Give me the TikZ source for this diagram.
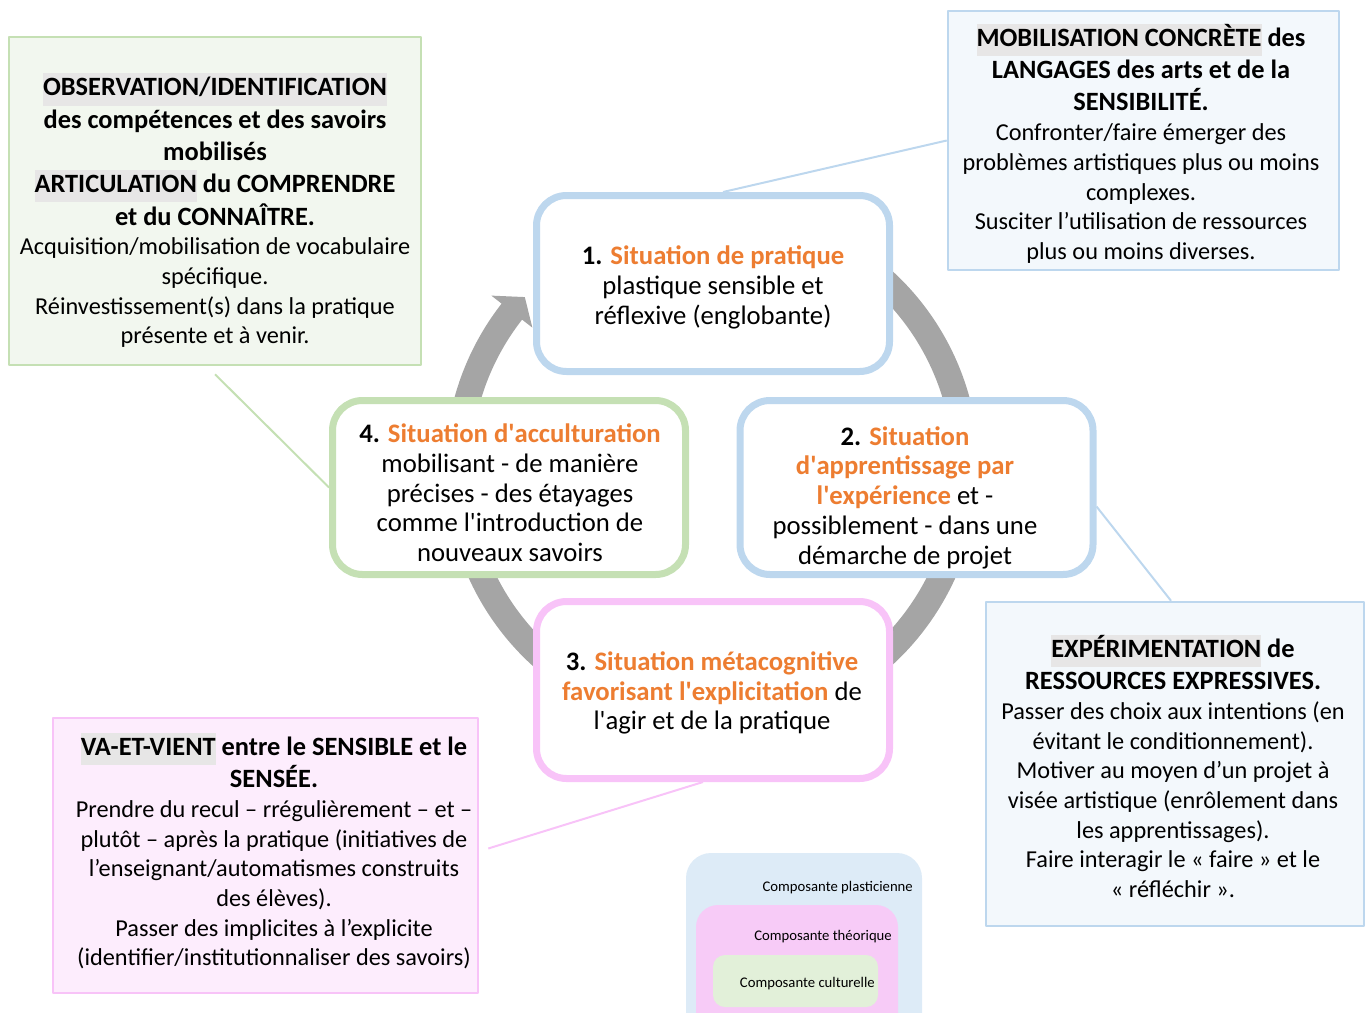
\documentclass[tikz,border=0pt]{standalone}
\usepackage{fontspec}
\setmainfont{Carlito}
\usepackage{tikz}
\usetikzlibrary{calc,positioning}

\definecolor{hlgray}{HTML}{E7E6E6}
\definecolor{orangeT}{HTML}{ED7D31}
\definecolor{arrowgray}{HTML}{A5A5A5}
\definecolor{blueB}{HTML}{BDD7EE}
\definecolor{greenB}{HTML}{C5E0B4}
\definecolor{pinkB}{HTML}{F8C3F8}
\definecolor{greenF}{HTML}{F2F7EF}
\definecolor{blueF}{HTML}{F3F8FC}
\definecolor{pinkF}{HTML}{FDEDFD}
\definecolor{legblue}{HTML}{DDEBF7}
\definecolor{legpink}{HTML}{F7CBF7}
\definecolor{leggreen}{HTML}{E2F0D9}

\newcommand \surligne[1]{{\setlength{\fboxsep}{0pt}\colorbox{hlgray}{\strut #1}}}
\newcommand \titre[1]{\textcolor{orangeT}{\textbf{#1}}}
\newcommand \entete{\fontsize{26.4}{32.3}\selectfont\bfseries}
\newcommand \corps{\fontsize{24.3}{29.7}\selectfont}
\newcommand \corpssit{\fontsize{26.7}{29.7}\selectfont}
\newcommand \sq{\textquotesingle}

\tikzset{
  sitbox/.style={draw, line width=7pt, rounded corners=30pt, fill=white, minimum width=353pt},
  sittext/.style={align=center, font=\corpssit, inner sep=0pt},
  sidebox/.style={draw, line width=2.5pt, inner sep=0pt},
  sidetext/.style={text width=#1, align=flush center, font=\corps, inner sep=0pt, anchor=north},
  lien/.style={line width=2pt},
  legtext/.style={font=\fontsize{14.7}{17}\selectfont, anchor=east, inner sep=0pt}
}

\begin{document}
\begin{tikzpicture}[line join=round, x=1pt, y=-1pt]
\useasboundingbox (0,0) rectangle (1367,1012);
% fleche circulaire
\coordinate (C) at (712,468);
\fill[arrowgray] ($(C)+(-60:267)$) arc[start angle=-60, end angle=218, radius=267]
  -- ($(C)+(218:280)$) -- ($(C)+(222.4:253.5)$) -- ($(C)+(218:228)$)
  -- ($(C)+(218:241)$) arc[start angle=218, end angle=-60, radius=241] -- cycle;
% les quatre situations
\node[sitbox, draw=blueB,  minimum height=176pt] (box1) at (713,283.5) {};
\node[sitbox, draw=blueB,  minimum height=174pt] (box2) at (916.5,487.5) {};
\node[sitbox, draw=pinkB,  minimum height=177pt] (box3) at (713,690) {};
\node[sitbox, draw=greenB, minimum height=174pt] (box4) at (509,487.5) {};
\node[sittext] (t1) at (713,287.5) {\textbf{1.} \titre{Situation de pratique}\\ plastique sensible et\\ réflexive (englobante)};
\node[sittext] (t2) at (905,497.5) {\textbf{2.} \titre{Situation}\\ \titre{d\sq apprentissage par}\\ \titre{l\sq expérience} et -\\ possiblement - dans une\\ démarche de projet};
\node[sittext] (t3) at (712,693) {\textbf{3.} \titre{Situation métacognitive}\\ \titre{favorisant l\sq explicitation} de\\ l\sq agir et de la pratique};
\node[sittext] (t4) at (510,493) {\textbf{4.} \titre{Situation d\sq acculturation}\\ mobilisant - de manière\\ précises - des étayages\\ comme l\sq introduction de\\ nouveaux savoirs};
% encadres
\node[sidebox, draw=greenB, fill=greenF, minimum width=412pt, minimum height=328pt] (obs) at (215,201) {};
\node[sidebox, draw=blueB,  fill=blueF,  minimum width=391pt, minimum height=259pt] (mob) at (1143.5,140.5) {};
\node[sidebox, draw=blueB,  fill=blueF,  minimum width=378pt, minimum height=324pt] (exp) at (1175,764) {};
\node[sidebox, draw=pinkB,  fill=pinkF,  minimum width=425pt, minimum height=275pt] (va)  at (265.5,855.5) {};
\node[sidetext=400pt] (tobs) at (215,73) {{\entete \surligne{OBSERVATION/IDENTIFICATION}\\ des compétences et des savoirs\\ mobilisés\\ \surligne{ARTICULATION} du COMPRENDRE\\ et du CONNAÎTRE.\par}{\corps Acquisition/mobilisation de vocabulaire\\ spécifique.\\ Réinvestissement(s) dans la pratique\\ présente et à venir.\par}};
\node[sidetext=385pt] (tmob) at (1141,23.5) {{\entete \surligne{MOBILISATION CONCRÈTE} des\\ LANGAGES des arts et de la\\ SENSIBILITÉ.\par}{\corps Confronter/faire émerger des\\ problèmes artistiques plus ou moins\\ complexes.\\ Susciter l’utilisation de ressources\\ plus ou moins diverses.\par}};
\node[sidetext=372pt] (texp) at (1173,634.5) {{\entete \surligne{EXPÉRIMENTATION} de\\ RESSOURCES EXPRESSIVES.\par}{\corps Passer des choix aux intentions (en\\ évitant le conditionnement).\\ Motiver au moyen d’un projet à\\ visée artistique (enrôlement dans\\ les apprentissages).\\ Faire interagir le «~faire~» et le\\ «~réfléchir~».\par}};
\node[sidetext=418pt] (tva) at (274,732.5) {{\entete \surligne{VA-ET-VIENT} entre le SENSIBLE et le\\ SENSÉE.\par}{\corps Prendre du recul – rrégulièrement – et –\\ plutôt – après la pratique (initiatives de\\ l’enseignant/automatismes construits\\ des élèves).\\ Passer des implicites à l’explicite\\ (identifier/institutionnaliser des savoirs)\par}};
% liens
\draw[lien, draw=blueB]  (mob.west) -- ($(box1.north)+(10,0)$);
\draw[lien, draw=greenB] ($(obs.south)+(0,8)$) -- (box4.west);
\draw[lien, draw=blueB]  ($(box2.east)+(0,19)$) -- ($(exp.north)+(-4,0)$);
\draw[lien, draw=pinkB]  ($(box3.south)+(-10,0)$) -- ($(va.east)+(9,-7)$);
% legende
\fill[legblue,  rounded corners=25pt] (686,853) rectangle (922,1045);
\fill[legpink,  rounded corners=22pt] (696,905) rectangle (898,1035);
\fill[leggreen, rounded corners=12pt] (713,955) rectangle (878,1007);
\node[legtext] (lplast) at (913,888) {Composante plasticienne};
\node[legtext] (ltheo)  at (892,937) {Composante théorique};
\node[legtext] (lcult)  at (875,984) {Composante culturelle};
\end{tikzpicture}
\end{document}
